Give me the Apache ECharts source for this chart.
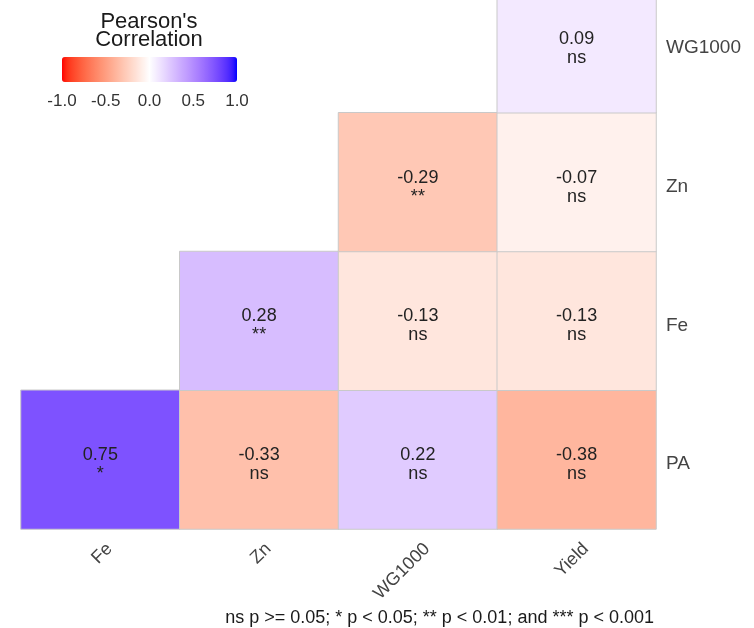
<!DOCTYPE html>
<html>
<head>
<meta charset="utf-8">
<script src="https://cdn.jsdelivr.net/npm/echarts@6/dist/echarts.min.js"></script>
<style>
  html, body { margin: 0; padding: 0; background: #ffffff; overflow: hidden; }
  /* canvas is taller than the window; the top strip runs past the upper edge */
  #chart { position: absolute; left: 0; top: -26px; width: 754px; height: 654px; }
</style>
</head>
<body>
<div id="chart"></div>
<script>
// Variables on each axis (y runs bottom to top)
const xVars = ['Fe', 'Zn', 'WG1000', 'Yield'];
const yVars = ['PA', 'Fe', 'Zn', 'WG1000'];

// Correlation coefficients per row (null = cell not drawn)
const rowPA     = [0.75, -0.33, 0.22, -0.38];
const rowFe     = [null, 0.28, -0.13, -0.13];
const rowZn     = [null, null, -0.29, -0.07];
const rowWG1000 = [null, null, null, 0.09];

// Significance codes per row
const sigPA     = ['*', 'ns', 'ns', 'ns'];
const sigFe     = [null, '**', 'ns', 'ns'];
const sigZn     = [null, null, '**', 'ns'];
const sigWG1000 = [null, null, null, 'ns'];

// Colour bar tick labels
const legendTicks = [-1.0, -0.5, 0.0, 0.5, 1.0];

const FONT = "'Liberation Sans', Arial, sans-serif";

// Diverging red - white - blue ramp, interpolated in CIELAB
function labToHex(L, a, b) {
  const fy = (L + 16) / 116, fx = fy + a / 500, fz = fy - b / 200;
  const inv = t => (t > 6 / 29 ? t * t * t : 3 * (6 / 29) * (6 / 29) * (t - 4 / 29));
  const X = 0.95047 * inv(fx), Y = inv(fy), Z = 1.08883 * inv(fz);
  let r = 3.2406 * X - 1.5372 * Y - 0.4986 * Z;
  let g = -0.9689 * X + 1.8758 * Y + 0.0415 * Z;
  let bl = 0.0557 * X - 0.2040 * Y + 1.0570 * Z;
  const gam = c => {
    c = Math.min(1, Math.max(0, c));
    c = c <= 0.0031308 ? 12.92 * c : 1.055 * Math.pow(c, 1 / 2.4) - 0.055;
    return Math.round(c * 255);
  };
  return '#' + [gam(r), gam(g), gam(bl)].map(v => v.toString(16).padStart(2, '0')).join('');
}
const LAB_RED = [53.2408, 80.0925, 67.2032];
const LAB_WHITE = [100, 0, 0];
const LAB_BLUE = [32.2970, 79.1875, -107.8602];
function rampStops(n) {
  const out = [];
  for (let i = 0; i <= n; i++) {
    const v = -1 + 2 * i / n;
    const from = v < 0 ? LAB_RED : LAB_BLUE;
    const t = Math.abs(v);
    out.push(labToHex(
      LAB_WHITE[0] + (from[0] - LAB_WHITE[0]) * t,
      LAB_WHITE[1] + (from[1] - LAB_WHITE[1]) * t,
      LAB_WHITE[2] + (from[2] - LAB_WHITE[2]) * t));
  }
  return out;
}

// Build heatmap cells
const rows = [rowPA, rowFe, rowZn, rowWG1000];
const sigs = [sigPA, sigFe, sigZn, sigWG1000];
const cells = [];
rows.forEach((row, yi) => {
  row.forEach((v, xi) => {
    if (v !== null) cells.push({ value: [xi, yi, v], sig: sigs[yi][xi] });
  });
});

const chart = echarts.init(document.getElementById('chart'), null, { renderer: 'canvas' });

chart.setOption({
  animation: false,
  backgroundColor: '#ffffff',
  textStyle: { fontFamily: FONT },
  title: {
    text: "Pearson's\nCorrelation",
    left: 149,
    top: 39,
    padding: 0,
    textAlign: 'center',
    textStyle: { fontFamily: FONT, fontSize: 22, fontWeight: 'normal', color: '#1a1a1a', lineHeight: 18 }
  },
  grid: [
    { left: 21, right: 98, top: 0, bottom: 99 },
    { left: 62, width: 175, top: 83, height: 25 }
  ],
  xAxis: [
    {
      type: 'category', data: xVars, gridIndex: 0,
      axisLine: { show: false }, axisTick: { show: false }, splitLine: { show: false },
      axisLabel: {
        rotate: 45, margin: 8, fontSize: 18, lineHeight: 26,
        align: 'right', verticalAlign: 'top',
        color: '#444444', fontFamily: FONT
      }
    },
    {
      type: 'value', gridIndex: 1, min: -1, max: 1, interval: 0.5,
      axisLine: { show: false }, splitLine: { show: false },
      axisTick: { show: true, inside: true, length: 5, lineStyle: { color: '#ffffff', width: 1 } },
      axisLabel: {
        margin: 11, fontSize: 17, color: '#333333', fontFamily: FONT,
        formatter: v => legendTicks.find(t => Math.abs(t - v) < 1e-9).toFixed(1)
      }
    },
    {
      type: 'value', gridIndex: 1, position: 'top', min: -1, max: 1, interval: 0.5,
      axisLine: { show: false }, splitLine: { show: false }, axisLabel: { show: false },
      axisTick: { show: true, inside: true, length: 5, lineStyle: { color: '#ffffff', width: 1 } }
    }
  ],
  yAxis: [
    {
      type: 'category', data: yVars, gridIndex: 0, position: 'right',
      axisLine: { show: false }, axisTick: { show: false }, splitLine: { show: false },
      axisLabel: {
        margin: 10, fontSize: 19, lineHeight: 9, verticalAlign: 'top',
        color: '#444444', fontFamily: FONT
      }
    },
    { type: 'value', gridIndex: 1, show: false, min: 0, max: 1 }
  ],
  visualMap: {
    type: 'continuous',
    seriesIndex: 0,
    min: -1, max: 1,
    orient: 'horizontal',
    calculable: false,
    left: 62, top: 83,
    padding: 0,
    itemWidth: 25,
    itemHeight: 175,
    text: null,
    showLabel: false,
    z: 1,
    inRange: { color: rampStops(40) }
  },
  series: [
    {
      type: 'heatmap',
      xAxisIndex: 0, yAxisIndex: 0,
      data: cells,
      itemStyle: { borderColor: '#c9c9c9', borderWidth: 1 },
      label: {
        show: true,
        fontFamily: FONT,
        fontSize: 18,
        lineHeight: 19,
        offset: [0, 5],
        color: '#222222',
        formatter: p => p.value[2].toFixed(2) + '\n' + p.data.sig
      },
      emphasis: { disabled: true }
    }
  ],
  graphic: [
    {
      type: 'text',
      x: 654, y: 644,
      style: {
        text: 'ns p >= 0.05; * p < 0.05; ** p < 0.01; and *** p < 0.001',
        fontFamily: FONT, fontSize: 18, fill: '#1a1a1a',
        textAlign: 'right', textVerticalAlign: 'middle'
      }
    }
  ]
});
</script>
</body>
</html>
